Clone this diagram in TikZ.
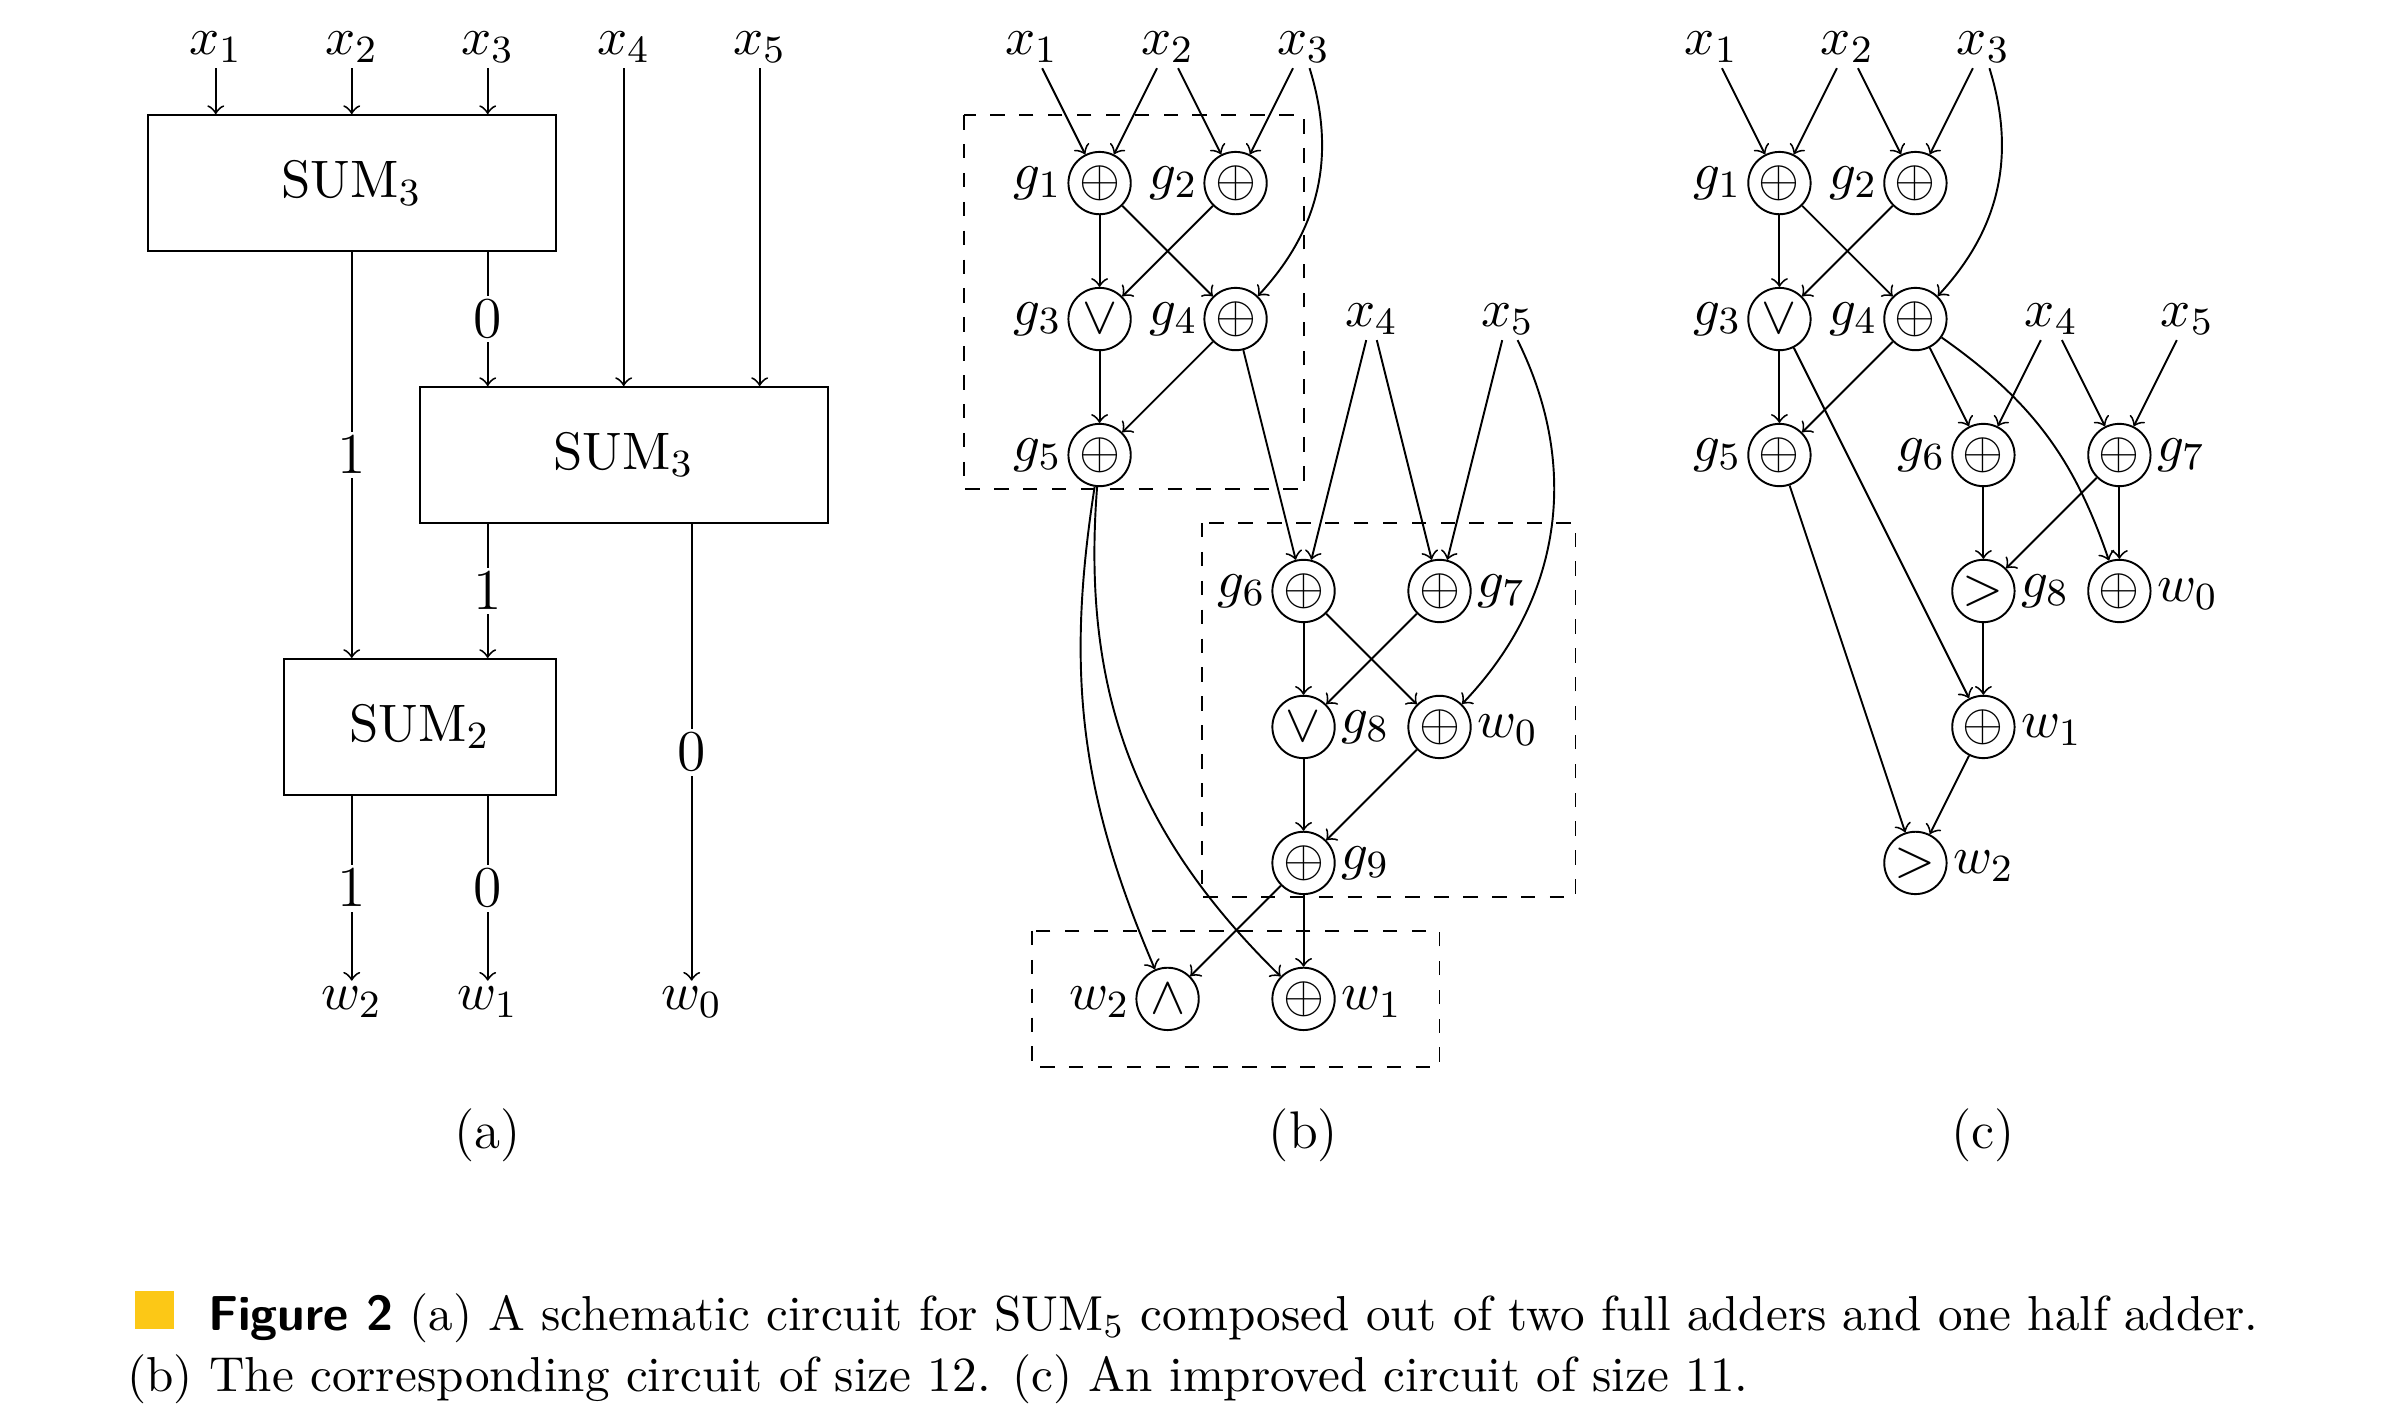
\documentclass[tikz,border=0pt]{standalone}
\usepackage{amsmath}
\usepackage{amssymb}
\usepackage{tikz}
\usetikzlibrary{arrows,positioning}
\definecolor{figyellow}{RGB}{252,200,22}
\newcommand{\gatesize}{\fontsize{11}{13}\selectfont}
\newcommand{\bitsize}{\fontsize{12}{14}\selectfont}
\newcommand{\capsize}{\fontsize{10.2}{12}\selectfont}
\def\gridu{0.9925cm}

\begin{document}
\begin{tikzpicture}[->,>=to,x=\gridu,y=\gridu,node distance=\gridu,
    gate/.style={circle,draw,minimum size=0.455cm,inner sep=0pt,font=\gatesize},
    var/.style={inner sep=1pt,font=\gatesize},
    sumbox/.style={rectangle,draw,minimum height=\gridu,inner sep=0pt,font=\gatesize},
    bitlabel/.style={fill=white,inner sep=1pt,font=\bitsize},
    every label/.style={inner sep=1pt,font=\gatesize},
    wlow/.style={yshift=-0.6pt},
    dashbox/.style={dashed,-}]

	\useasboundingbox (-1.587,0.3466) rectangle (15.961,-10.141);

	% (a)
	\node[var] (ax1) at (0,0) {$x_1$};
	\node[var] (ax2) [right of=ax1] {$x_2$};
	\node[var] (ax3) [right of=ax2] {$x_3$};
	\node[var] (ax4) [right of=ax3] {$x_4$};
	\node[var] (ax5) [right of=ax4] {$x_5$};
	\node[sumbox, minimum width=3*\gridu] (sum1) at (1,-1) {$\mathrm{SUM}_3$};
	\node[sumbox, minimum width=3*\gridu] (sum2) at (3,-3) {$\mathrm{SUM}_3$};
	\node[sumbox, minimum width=2*\gridu] (sum3) at (1.5,-5) {$\mathrm{SUM}_2$};
	\node[var, wlow] (aw2) at (1,-7) {$w_2$};
	\node[var] (aw1) [right of=aw2] {$w_1$};
	\node[var, wlow] (aw0) at (3.5,-7) {$w_0$};
	\node[font=\gatesize] (capa) at (2,-8) {(a)};

	\path[]
	(ax1) edge (ax1 |- sum1.north)
	(ax2) edge (ax2 |- sum1.north)
	(ax3) edge (ax3 |- sum1.north)
	(ax4) edge (ax4 |- sum2.north)
	(ax5) edge (ax5 |- sum2.north)
	(ax3 |- sum1.south) edge node[bitlabel] {$0$} (ax3 |- sum2.north)
	(ax2 |- sum1.south) edge node[bitlabel] {$1$} (ax2 |- sum3.north)
	(ax3 |- sum2.south) edge node[bitlabel] {$1$} (ax3 |- sum3.north)
	(aw0 |- sum2.south) edge node[bitlabel] {$0$} (aw0)
	(aw2 |- sum3.south) edge node[bitlabel] {$1$} (aw2)
	(aw1 |- sum3.south) edge node[bitlabel] {$0$} (aw1);

	% (b)
	\node[var] (bx1) at (6,0) {$x_1$};
	\node[var] (bx2) [right of=bx1] {$x_2$};
	\node[var] (bx3) [right of=bx2] {$x_3$};
	\node[gate, label=left:$g_1$] (bg1) at (6.5,-1) {$\oplus$};
	\node[gate, label=left:$g_2$] (bg2) [right of=bg1] {$\oplus$};
	\node[gate, label=left:$g_3$] (bg3) [below of=bg1] {$\vee$};
	\node[gate, label=left:$g_4$] (bg4) [below of=bg2] {$\oplus$};
	\node[gate, label=left:$g_5$] (bg5) [below of=bg3] {$\oplus$};
	\node[var] (bx4) at (8.5,-2) {$x_4$};
	\node[var] (bx5) [right of=bx4] {$x_5$};
	\node[gate, label=left:$g_6$] (bg6) at (8,-4) {$\oplus$};
	\node[gate, label=right:$g_7$] (bg7) [right of=bg6] {$\oplus$};
	\node[gate, label=right:$g_8$] (bg8) [below of=bg6] {$\vee$};
	\node[gate, label={[wlow]right:$w_0$}] (bw0) [below of=bg7] {$\oplus$};
	\node[gate, label=right:$g_9$] (bg9) [below of=bg8] {$\oplus$};
	\node[gate, label={[wlow]right:$w_1$}] (bw1) [below of=bg9] {$\oplus$};
	\node[gate, label={[wlow]left:$w_2$}] (bw2) [left of=bw1] {$\wedge$};
	\node[font=\gatesize] (capb) at (8,-8) {(b)};

	\path[]
	(bx1) edge (bg1)
	(bx2) edge (bg1)
	(bx2) edge (bg2)
	(bx3) edge (bg2)
	(bx3) edge [bend left=30] (bg4)
	(bg1) edge (bg3)
	(bg1) edge (bg4)
	(bg2) edge (bg3)
	(bg3) edge (bg5)
	(bg4) edge (bg5)
	(bg4) edge (bg6)
	(bx4) edge (bg6)
	(bx4) edge (bg7)
	(bx5) edge (bg7)
	(bx5) edge [bend left=35] (bw0)
	(bg6) edge (bg8)
	(bg6) edge (bw0)
	(bg7) edge (bg8)
	(bg8) edge (bg9)
	(bw0) edge (bg9)
	(bg9) edge (bw2)
	(bg9) edge (bw1)
	(bg5) edge [bend right=16] (bw2)
	(bg5) edge [bend right=25] (bw1);

	\draw[dashbox] (5.5,-0.5) rectangle (8,-3.25);
	\draw[dashbox] (7.25,-3.5) rectangle (10,-6.25);
	\draw[dashbox] (6,-6.5) rectangle (9,-7.5);

	% (c)
	\node[var] (cx1) at (11,0) {$x_1$};
	\node[var] (cx2) [right of=cx1] {$x_2$};
	\node[var] (cx3) [right of=cx2] {$x_3$};
	\node[gate, label=left:$g_1$] (cg1) at (11.5,-1) {$\oplus$};
	\node[gate, label=left:$g_2$] (cg2) [right of=cg1] {$\oplus$};
	\node[gate, label=left:$g_3$] (cg3) [below of=cg1] {$\vee$};
	\node[gate, label=left:$g_4$] (cg4) [below of=cg2] {$\oplus$};
	\node[gate, label=left:$g_5$] (cg5) [below of=cg3] {$\oplus$};
	\node[var] (cx4) at (13.5,-2) {$x_4$};
	\node[var] (cx5) [right of=cx4] {$x_5$};
	\node[gate, label=left:$g_6$] (cg6) at (13,-3) {$\oplus$};
	\node[gate, label=right:$g_7$] (cg7) [right of=cg6] {$\oplus$};
	\node[gate, label=right:$g_8$] (cg8) [below of=cg6] {$>$};
	\node[gate, label={[wlow]right:$w_0$}] (cw0) [below of=cg7] {$\oplus$};
	\node[gate, label={[wlow]right:$w_1$}] (cw1) [below of=cg8] {$\oplus$};
	\node[gate, label={[wlow]right:$w_2$}] (cw2) at (12.5,-6) {$>$};
	\node[font=\gatesize] (capc) at (13,-8) {(c)};

	\path[]
	(cx1) edge (cg1)
	(cx2) edge (cg1)
	(cx2) edge (cg2)
	(cx3) edge (cg2)
	(cx3) edge [bend left=30] (cg4)
	(cg1) edge (cg3)
	(cg1) edge (cg4)
	(cg2) edge (cg3)
	(cg3) edge (cg5)
	(cg4) edge (cg5)
	(cg3) edge (cw1)
	(cg4) edge (cg6)
	(cx4) edge (cg6)
	(cx4) edge (cg7)
	(cx5) edge (cg7)
	(cg4) edge [bend left=18] (cw0)
	(cg6) edge (cg8)
	(cg7) edge (cg8)
	(cg7) edge (cw0)
	(cg8) edge (cw1)
	(cg5) edge (cw2)
	(cw1) edge (cw2);

	% caption
	\fill[figyellow] (-0.593,-9.149) rectangle (-0.31,-9.428);
	\node[anchor=base west, inner sep=0pt, font=\capsize] (line1) at (-0.063,-9.44)
	  {\hbox to 14.965cm{\textsf{\textbf{Figure 2}}\ (a) A schematic circuit for SUM$_5$ composed out of two full adders and one half adder.}};
	\node[anchor=base west, inner sep=0pt, font=\capsize] (line2) at (-0.656,-9.888)
	  {(b) The corresponding circuit of size 12. (c) An improved circuit of size 11.};

\end{tikzpicture}
\end{document}
